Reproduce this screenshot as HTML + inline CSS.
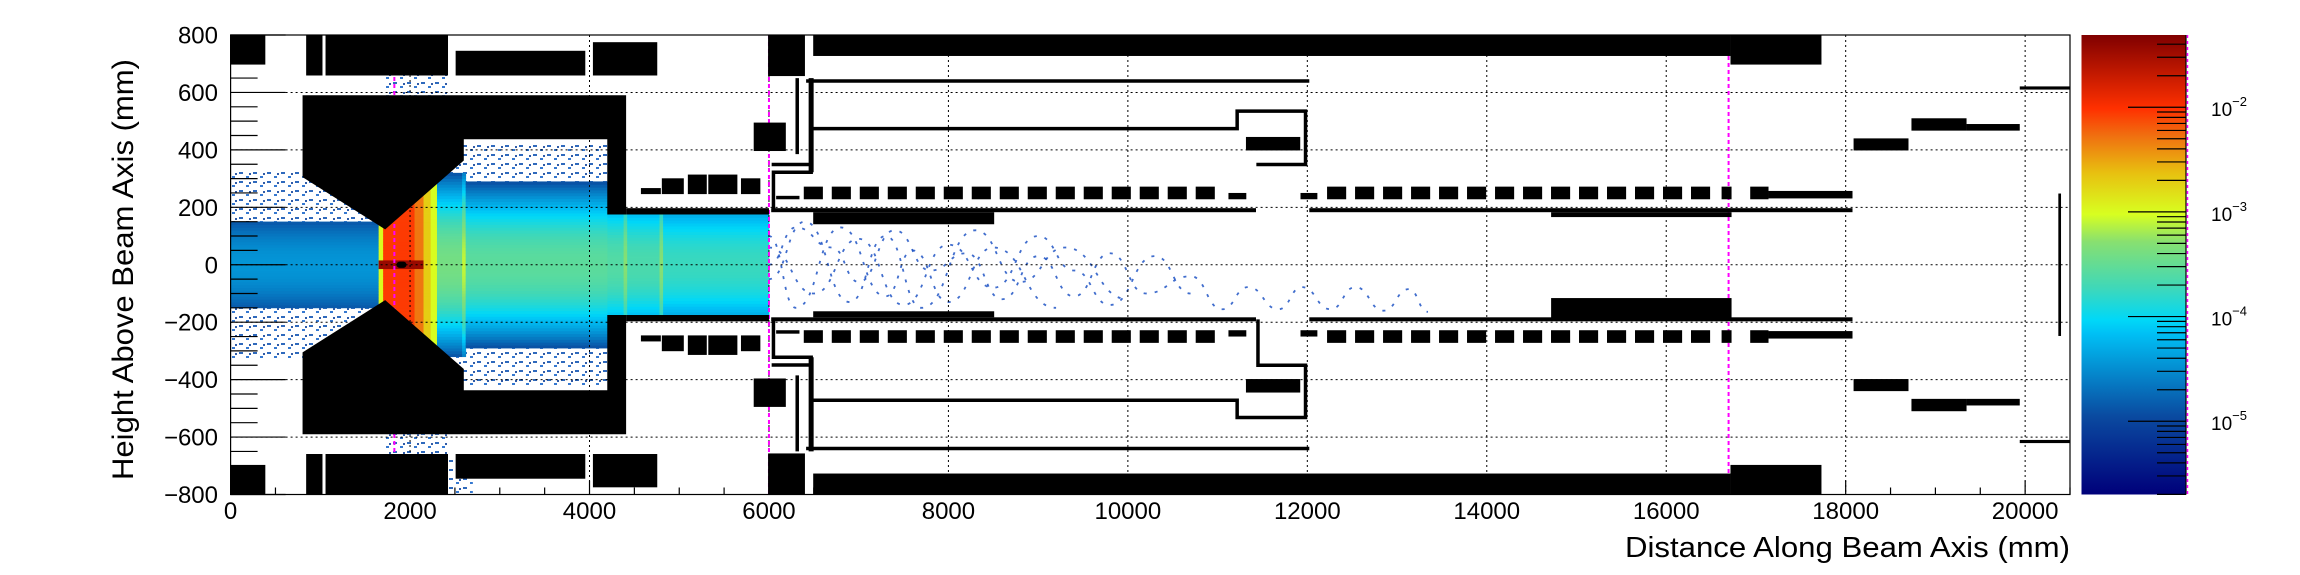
<!DOCTYPE html>
<html><head><meta charset="utf-8">
<style>
html,body{margin:0;padding:0;background:#fff;}
body{width:2300px;height:575px;overflow:hidden;}
svg{display:block;font-family:"Liberation Sans",Arial,sans-serif;}
</style></head>
<body>
<svg id="chart" width="2300" height="575" viewBox="0 0 2300 575" xmlns="http://www.w3.org/2000/svg">
<defs>
<pattern id="sparse" width="14" height="9" patternUnits="userSpaceOnUse">
<rect x="1" y="1" width="4" height="2" fill="#0a4fb0"/>
<rect x="8" y="5" width="3" height="2" fill="#1160c8"/>
<rect x="11" y="2" width="2" height="2" fill="#0b3f9a"/>
</pattern>
<pattern id="dense" width="10" height="6" patternUnits="userSpaceOnUse">
<rect x="0" y="0" width="10" height="6" fill="#1a78d0"/>
<rect x="1" y="1" width="4" height="2" fill="#0a4fb0"/>
<rect x="6" y="3" width="3" height="2" fill="#00b0f0"/>
</pattern>
<linearGradient id="cbgrad" x1="0" y1="1" x2="0" y2="0"></linearGradient>
<clipPath id="plotclip"><rect x="230.6" y="35" width="1839.4" height="459.5"/></clipPath>
</defs>
<rect x="0" y="0" width="2300" height="575" fill="#fff"/>
<g id="plot" clip-path="url(#plotclip)"></g>
<g id="axes"></g>
<g id="cbar"></g>
<text transform="translate(133,59) rotate(-90)" text-anchor="end" font-size="30" textLength="421" lengthAdjust="spacingAndGlyphs">Height Above Beam Axis (mm)</text>
<text x="2070" y="557" text-anchor="end" font-size="29" textLength="445" lengthAdjust="spacingAndGlyphs">Distance Along Beam Axis (mm)</text>
</svg>
<script>
// ---- data ----
const xTicks = [0,2000,4000,6000,8000,10000,12000,14000,16000,18000,20000];
const yTicks = [-800,-600,-400,-200,0,200,400,600,800];
const cbarExps = [-5,-4,-3,-2];
// heatmap columns (mm), log10 center density, spread (mm), extent (mm)
const colX0 = [0,1650,1700,2050,2150,2230,2300,2580,2620,4200,4380,4420,4780,4820];
const colX1 = [1650,1700,2050,2150,2230,2300,2580,2620,4200,4380,4420,4780,4820,6000];
const colC  = [-4.45,-3.0,-2.05,-2.3,-2.7,-3.0,-3.4,-3.1,-3.55,-3.6,-3.3,-3.65,-3.3,-3.75];
const colS  = [230,2000,2000,2000,2000,2000,260,260,245,240,240,240,240,235];
const colYmax=[150,400,400,400,400,400,320,320,330,175,175,175,175,175];
// band of medium-density hits [x0,x1,y0,y1]
const denseRegions = [[0,1650,90,150],[0,1650,-150,-90],[2300,4200,220,290],[2300,4200,-290,-220]];
// sparse halo regions [x0,x1,y0,y1]
const haloRegions = [[0,1650,150,330],[0,1650,-330,-150],[2300,4200,290,420],[2300,4200,-420,-290],[1700,2430,590,660],[1700,2430,-660,-590],[2430,2700,-800,-660]];
// trajectories after 6000 mm
const trackA = [[6000,0],[6300,130],[6700,60],[7000,-60],[7400,120],[7800,-20],[8200,40],[8600,-120],[9000,30],[9400,-110],[9800,40],[10200,-100],[10700,-40],[11050,-155],[11340,-78],[11680,-155],[11940,-78],[12260,-155],[12535,-78],[12850,-160],[13130,-85],[13345,-164]];
const trackB = [[6000,60],[6500,-100],[7000,90],[7500,-140],[8000,70],[8500,-80],[9000,100],[9400,-20],[9800,-140],[10300,30],[10700,-100]];
const trackC = [[6000,-50],[6400,150],[6900,-130],[7300,100],[7700,-150],[8300,120],[8800,-60],[9300,60],[10000,-120]];
const trackD = [[6000,100],[6300,-150],[6800,130],[7300,-110],[7600,50],[8000,-130],[8500,60],[9200,-150]];
// geometry (mm): mirrored rects [x0,x1,y0,y1]
const mirrorRects = [[0,387,697,800],[842,1024,659,800],[1058,2423,659,800],[2508,3953,659,745],[4038,4755,659,775],
 [5990,6401,657,800],[6493,16716,727,800],[16716,17730,697,800],[5830,6188,396,495],[11316,11921,398,445],
 [18088,18700,398,440],[18733,19347,467,510],[19347,19940,467,490],[19940,20500,610,621],
 [4408,6000,175,197],[6025,11428,183,197],[12022,18076,183,197],
 [4573,4795,246,267],[4806,5051,246,301],[5096,5307,246,314],[5324,5648,246,314],[5688,5904,246,301],
 [11121,11320,228,250],[11924,12112,228,250],[16617,16728,228,272],[16936,17140,228,272],[17140,18076,231,257],[6080,6340,228,240]];
const plainRects = [[6493,8510,141,183],[14717,16728,166,183],[6493,8510,-183,-162],[14717,16728,-186,-116],[20370,20400,-248,248]];
const dashStartA = 6388, dashStartB = 12220, dashPitch = 312, dashW = 213, dashCountA = 15, dashCountB = 14;
const shieldTop = [[802,590],[4408,590],[4408,175],[4198,175],[4198,437],[2599,437],[2599,363],[1723,123],[802,305]];
const mirrorLines = [[[6414,640],[12022,640]],[[6315,650],[6315,385]],[[6470,650],[6470,322]],[[6030,349],[6450,349]],[[6050,190],[6050,322],[6490,322]]];
const topLine = [[6493,474],[11218,474],[11218,535],[11980,535],[11980,349],[11432,349]];
const botLine = [[6493,-472],[11218,-472],[11218,-532],[11980,-532],[11980,-350],[11450,-350],[11450,-190]];
const markerX = [1825,6000,16695];

// ---- scales ----
const X0=230.6, X1=2070, Y0=494.5, Y1=35, XMIN=0, XMAX=20500, YMIN=-800, YMAX=800;
const X = v => X0 + (v-XMIN)/(XMAX-XMIN)*(X1-X0);
const Y = v => Y0 - (v-YMIN)/(YMAX-YMIN)*(Y0-Y1);
const VMIN=-5.70, VMAX=-1.31, CB0=494.5, CB1=35;
const CY = v => CB0 - (v-VMIN)/(VMAX-VMIN)*(CB0-CB1);
const stops=[[0,[0,0,122]],[0.17,[10,74,160]],[0.35,[0,192,245]],[0.38,[0,216,248]],[0.45,[63,216,184]],[0.55,[136,224,112]],[0.61,[216,255,32]],[0.70,[232,192,16]],[0.78,[240,112,16]],[0.84,[255,48,0]],[1,[128,0,0]]];
function col(v){let f=(v-VMIN)/(VMAX-VMIN);f=Math.max(0,Math.min(1,f));
 for(let i=1;i<stops.length;i++){if(f<=stops[i][0]){const a=stops[i-1],b=stops[i];const t=(f-a[0])/(b[0]-a[0]);
 const c=a[1].map((q,k)=>Math.round(q+(b[1][k]-q)*t));return `rgb(${c[0]},${c[1]},${c[2]})`;}}return 'rgb(128,0,0)';}
const NS='http://www.w3.org/2000/svg';
function mk(tag,attrs,parent){const e=document.createElementNS(NS,tag);for(const k in attrs)e.setAttribute(k,attrs[k]);parent.appendChild(e);return e;}
const plot=document.getElementById('plot'), axes=document.getElementById('axes'), cbar=document.getElementById('cbar');

// heatmap
const heat=mk('g',{},plot);


haloRegions.forEach(r=>{const e=mk('rect',{x:X(r[0]),y:Y(Math.max(r[2],r[3])),width:X(r[1])-X(r[0]),height:Math.abs(Y(r[3])-Y(r[2])),fill:'url(#sparse)',opacity:0.85},heat);
 
 });
denseRegions.forEach(r=>{const e=mk('rect',{x:X(r[0]),y:Y(Math.max(r[2],r[3])),width:X(r[1])-X(r[0]),height:Math.abs(Y(r[3])-Y(r[2])),fill:'url(#dense)'},heat);
 
 });
for(let i=0;i<colX0.length;i++){
 for(let y=-colYmax[i];y<colYmax[i];y+=10){
  const yc=y+5;const v=colC[i]-Math.pow(yc/colS[i],2);
  if(v<-4.95)continue;
  const e=mk('rect',{x:X(colX0[i]),y:Y(y+10),width:X(colX1[i])-X(colX0[i])+0.4,height:Y(y)-Y(y+10)+0.4,fill:col(v)},heat);
  
  
 }}
const core=mk('rect',{x:X(1650),y:Y(15),width:X(2150)-X(1650),height:Y(-15)-Y(15),fill:col(-1.45)},heat);


const dot=mk('rect',{x:X(1850),y:Y(11),width:X(1960)-X(1850),height:Y(-11)-Y(11),fill:'#000',rx:3},heat);


[trackA,trackB,trackC,trackD].forEach(t=>{
 let d=`M${X(t[0][0])},${Y(t[0][1])}`;
 for(let i=1;i<t.length;i++){const p=t[i-1],q=t[i];const mx=(X(p[0])+X(q[0]))/2;d+=` C${mx},${Y(p[1])} ${mx},${Y(q[1])} ${X(q[0])},${Y(q[1])}`;}
 const e=mk('path',{d:d,fill:'none',stroke:'#1048c0','stroke-width':1.8,'stroke-dasharray':'3 8',opacity:0.8},heat);
 
 });

// grid
const grid=mk('g',{stroke:'#000','stroke-width':1,'stroke-dasharray':'2 3'},plot);


xTicks.forEach(v=>{if(v>0){const e=mk('line',{x1:X(v),x2:X(v),y1:Y1,y2:Y0},grid);}});
yTicks.forEach(v=>{if(v>YMIN&&v<YMAX){const e=mk('line',{x1:X0,x2:X1,y1:Y(v),y2:Y(v)},grid);}});

// magenta markers
markerX.forEach(v=>{const e=mk('line',{x1:X(v),x2:X(v),y1:Y1,y2:Y0,stroke:'#ff00ff','stroke-width':2,'stroke-dasharray':'4 3'},plot);
 
 });

// geometry
const geo=mk('g',{fill:'#000'},plot);


function rect(r,name){const y0=Math.min(r[2],r[3]),y1=Math.max(r[2],r[3]);const e=mk('rect',{x:X(r[0]),y:Y(y1),width:X(r[1])-X(r[0]),height:Y(y0)-Y(y1)},geo);
 
 }
mirrorRects.forEach(r=>{rect(r,'magnet-block');rect([r[0],r[1],-r[2],-r[3]],'magnet-block');});
plainRects.forEach(r=>rect(r,'magnet-block'));
for(let k=0;k<dashCountA;k++){const x=dashStartA+k*dashPitch;rect([x,x+dashW,228,272],'coil-segment');rect([x,x+dashW,-272,-228],'coil-segment');}
for(let k=0;k<dashCountB;k++){const x=dashStartB+k*dashPitch;rect([x,x+dashW,228,272],'coil-segment');rect([x,x+dashW,-272,-228],'coil-segment');}
[1,-1].forEach(s=>{const e=mk('polygon',{points:shieldTop.map(p=>X(p[0])+','+Y(s*p[1])).join(' ')},geo);
 
 });
function pl(pts,w){const e=mk('polyline',{points:pts.map(p=>X(p[0])+','+Y(p[1])).join(' '),fill:'none',stroke:'#000','stroke-width':w},geo);
 
 }
mirrorLines.forEach((l,i)=>{const w=i===2?5:3.5;pl(l,w);pl(l.map(p=>[p[0],-p[1]]),w);});
pl(topLine,3.5);pl(botLine,3.5);

// frame + ticks + labels
const frame=mk('rect',{x:X0,y:Y1,width:X1-X0,height:Y0-Y1,fill:'none',stroke:'#000','stroke-width':1.2},axes);


for(let v=0;v<=XMAX;v+=500){const maj=v%2000===0;const e=mk('line',{x1:X(v),x2:X(v),y1:Y0,y2:Y0-(maj?14:7),stroke:'#000','stroke-width':1.2},axes);
 
 }
for(let v=YMIN;v<=YMAX;v+=50){const maj=v%200===0;const e=mk('line',{x1:X0,x2:X0+(maj?55:27),y1:Y(v),y2:Y(v),stroke:'#000','stroke-width':1.2},axes);
 
 }
xTicks.forEach(v=>{const t=mk('text',{x:X(v),y:519,'text-anchor':'middle','font-size':24},axes);t.textContent=String(v);
 
 });
yTicks.forEach(v=>{const t=mk('text',{x:218,y:Y(v)+8.5,'text-anchor':'end','font-size':24},axes);t.textContent=(v<0?'\u2212':'')+Math.abs(v);
 
 });

// color bar
const g=document.getElementById('cbgrad');
stops.forEach(s=>mk('stop',{offset:s[0],'stop-color':`rgb(${s[1].join(',')})`},g));
const CBX0=2081.5, CBX1=2186;
const cb=mk('rect',{x:CBX0,y:CB1,width:CBX1-CBX0,height:CB0-CB1,fill:'url(#cbgrad)'},cbar);


for(let e=-6;e<=-1;e++){for(let m=1;m<=9;m++){const v=e+Math.log10(m);if(v<VMIN||v>VMAX)continue;
 const l=mk('line',{x1:CBX1,x2:CBX1-(m===1?58:29),y1:CY(v),y2:CY(v),stroke:'#000','stroke-width':1.2},cbar);
 
 }}
const ax=mk('line',{x1:CBX1,x2:CBX1,y1:CB1,y2:CB0,stroke:'#000','stroke-width':1.2},cbar);


const mg=mk('line',{x1:CBX1+1.5,x2:CBX1+1.5,y1:CB1,y2:CB0,stroke:'#ff00ff','stroke-width':1.5,'stroke-dasharray':'3 3'},cbar);


cbarExps.forEach(e=>{const t=mk('text',{x:2211,y:CY(e)+9,'font-size':19},cbar);
 
 
 t.appendChild(document.createTextNode('10'));
 const s=mk('tspan',{dy:-10,'font-size':13},t);s.textContent='\u2212'+Math.abs(e);});
</script>
</body></html>
